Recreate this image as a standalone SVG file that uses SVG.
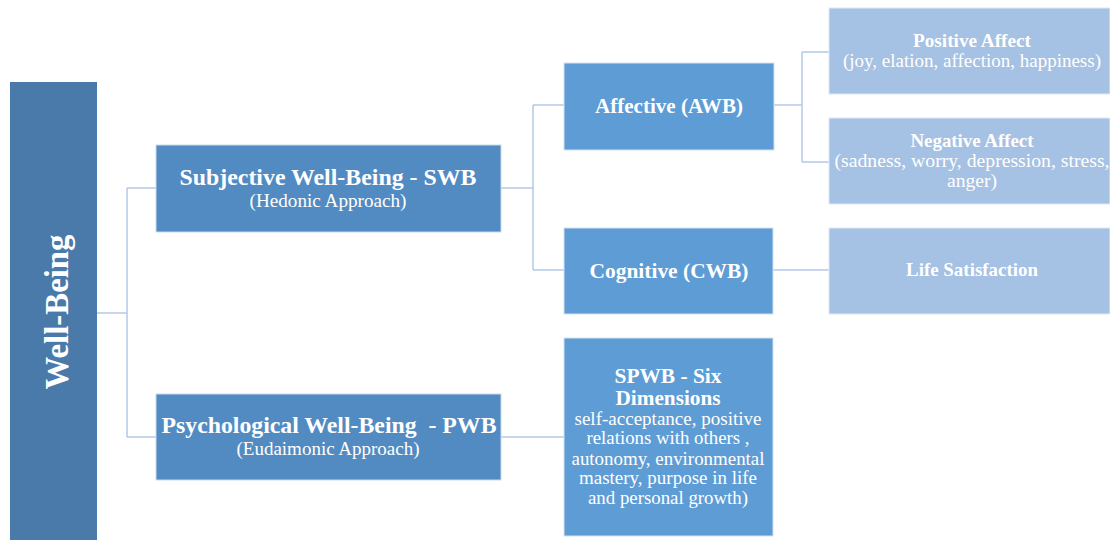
<svg xmlns="http://www.w3.org/2000/svg" width="1110" height="540" viewBox="0 0 1110 540">
<style>
text{font-family:"Liberation Serif","Times New Roman",serif;fill:#fff;text-anchor:middle}
.b{font-weight:bold}
.r{font-size:19px}
.c{fill:none;stroke:#b4c9e8;stroke-width:1.5}
.l0{fill:#4a7aa9}
.l1{fill:#528bc2;stroke:#c9d9ef;stroke-width:1}
.l2{fill:#5d9cd5;stroke:#d3e2f3;stroke-width:1}
.l3{fill:#a5c1e3;stroke:#dfe9f6;stroke-width:1}
</style>
<rect width="1110" height="540" fill="#fff"/>
<g id="connectors">
<path class="c" d="M97 313H127M127 188V437M127 188H156M127 437H156"/>
<path class="c" d="M501 188H533M533 105V270M533 105H564M533 270H564"/>
<path class="c" d="M501 437H564"/>
<path class="c" d="M774 105H802M802 52V162M802 52H829M802 162H829"/>
<path class="c" d="M773 270H829"/>
</g>
<g id="well-being">
<rect class="l0" x="10" y="82" width="87" height="460"/>
<text class="b" font-size="33" transform="translate(68 312) rotate(-90)" textLength="155" lengthAdjust="spacingAndGlyphs">Well-Being</text>
</g>
<g id="swb">
<rect class="l1" x="156" y="145" width="345" height="87"/>
<text class="b" font-size="24" x="328" y="185" textLength="297" lengthAdjust="spacingAndGlyphs">Subjective Well-Being - SWB</text>
<text class="r" x="328" y="207" textLength="157" lengthAdjust="spacingAndGlyphs">(Hedonic Approach)</text>
</g>
<g id="pwb">
<rect class="l1" x="156" y="394" width="345" height="86"/>
<text class="b" font-size="24" x="329" y="433" xml:space="preserve" textLength="335" lengthAdjust="spacingAndGlyphs">Psychological Well-Being  - PWB</text>
<text class="r" x="328" y="455" textLength="183" lengthAdjust="spacingAndGlyphs">(Eudaimonic Approach)</text>
</g>
<g id="affective">
<rect class="l2" x="564" y="63" width="210" height="87"/>
<text class="b" font-size="21.5" x="669" y="113" textLength="148" lengthAdjust="spacingAndGlyphs">Affective (AWB)</text>
</g>
<g id="cognitive">
<rect class="l2" x="564" y="228" width="209" height="86"/>
<text class="b" font-size="21.5" x="669" y="278" textLength="159" lengthAdjust="spacingAndGlyphs">Cognitive (CWB)</text>
</g>
<g id="spwb">
<rect class="l2" x="564" y="338" width="209" height="198"/>
<text class="b" font-size="21.5" x="668" y="383" textLength="107" lengthAdjust="spacingAndGlyphs">SPWB - Six</text>
<text class="b" font-size="21.5" x="668" y="405" textLength="105" lengthAdjust="spacingAndGlyphs">Dimensions</text>
<text class="r" x="668" y="425" textLength="187" lengthAdjust="spacingAndGlyphs">self-acceptance, positive</text>
<text class="r" x="668" y="444" textLength="163" lengthAdjust="spacingAndGlyphs">relations with others ,</text>
<text class="r" x="668" y="465" textLength="193" lengthAdjust="spacingAndGlyphs">autonomy, environmental</text>
<text class="r" x="668" y="484" textLength="178" lengthAdjust="spacingAndGlyphs">mastery, purpose in life</text>
<text class="r" x="668" y="504" textLength="160" lengthAdjust="spacingAndGlyphs">and personal growth)</text>
</g>
<g id="positive-affect">
<rect class="l3" x="829" y="8" width="281" height="86"/>
<text class="b" font-size="19" x="972" y="47" textLength="118" lengthAdjust="spacingAndGlyphs">Positive Affect</text>
<text class="r" x="972" y="67" textLength="258" lengthAdjust="spacingAndGlyphs">(joy, elation, affection, happiness)</text>
</g>
<g id="negative-affect">
<rect class="l3" x="829" y="118" width="281" height="86"/>
<text class="b" font-size="19" x="972" y="147" textLength="123" lengthAdjust="spacingAndGlyphs">Negative Affect</text>
<text class="r" x="972" y="167" textLength="275" lengthAdjust="spacingAndGlyphs">(sadness, worry, depression, stress,</text>
<text class="r" x="972" y="187" textLength="50" lengthAdjust="spacingAndGlyphs">anger)</text>
</g>
<g id="life-satisfaction">
<rect class="l3" x="829" y="228" width="281" height="86"/>
<text class="b" font-size="19" x="972" y="276" textLength="132" lengthAdjust="spacingAndGlyphs">Life Satisfaction</text>
</g>
</svg>
